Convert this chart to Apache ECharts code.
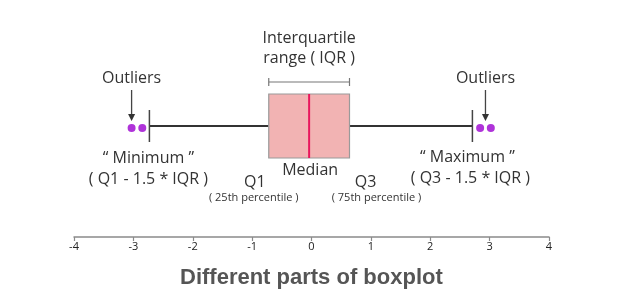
<!DOCTYPE html>
<html>
<head>
<meta charset="utf-8">
<script src="https://cdn.jsdelivr.net/npm/echarts@6/dist/echarts.min.js"></script>
<style>html,body{margin:0;padding:0;background:#fff;}#c{width:626px;height:291px;}</style>
</head>
<body>
<div id="c"></div>
<script>
// ---- data ----
const xMin = -4, xMax = 4, xInterval = 1;
// [lower whisker, Q1, median, Q3, upper whisker]
const boxStats = [-2.73, -0.72, -0.04, 0.64, 2.71];
const lowOutliers = [-3.03, -2.85];
const highOutliers = [2.84, 3.02];
const titleText = 'Different parts of boxplot';
const iqrLabel = ['Interquartile', 'range ( IQR )'];
const minLabel = ['\u201C Minimum \u201D', '( Q1 - 1.5 * IQR )'];
const maxLabel = ['\u201C Maximum \u201D', '( Q3 - 1.5 * IQR )'];
const q1Label = ['Q1', '( 25th percentile )'];
const q3Label = ['Q3', '( 75th percentile )'];
const medianLabel = 'Median';
const outlierLabel = 'Outliers';

const FONT = '"Open Sans", "Noto Sans", sans-serif';
const TXT = '#333';

function txt(text, x, y, size) {
  return { type: 'text', style: { text: text, x: x, y: y, fill: TXT, font: size + 'px ' + FONT, align: 'center', verticalAlign: 'middle' } };
}
function arrow(x, y1, y2) {
  return [
    { type: 'line', shape: { x1: x, y1: y1, x2: x, y2: y2 - 6 }, style: { stroke: '#444', lineWidth: 1.3 } },
    { type: 'polygon', shape: { points: [[x - 3.5, y2 - 7], [x + 3.5, y2 - 7], [x, y2]] }, style: { fill: '#333' } }
  ];
}

const chart = echarts.init(document.getElementById('c'), null, { renderer: 'canvas' });
chart.setOption({
  animation: false,
  backgroundColor: '#fff',
  title: {
    text: titleText, left: 175, top: 262,
    textStyle: { fontFamily: '"Liberation Sans", Arial, sans-serif', fontWeight: 'bold', fontSize: 22, color: '#555' }
  },
  grid: { left: 74, right: 77, top: 15, bottom: 54 },
  xAxis: {
    type: 'value', min: xMin, max: xMax, interval: xInterval,
    splitLine: { show: false },
    axisLine: { show: true, onZero: false, lineStyle: { color: '#8a8a8a', width: 1.5 } },
    axisTick: { show: true, length: 4, lineStyle: { color: '#8a8a8a', width: 1.2 } },
    axisLabel: { color: '#222', fontSize: 11, fontFamily: FONT, margin: 4 }
  },
  yAxis: { type: 'value', min: -1, max: 1, show: false },
  series: [
    {
      type: 'custom',
      data: [boxStats],
      z: 2,
      renderItem: function (params, api) {
        const lo = api.coord([api.value(0), 0]);
        const q1 = api.coord([api.value(1), 0]);
        const md = api.coord([api.value(2), 0]);
        const q3 = api.coord([api.value(3), 0]);
        const hi = api.coord([api.value(4), 0]);
        const cy = q1[1];
        const oL = api.coord([lowOutliers[0], 0]);
        const oR = api.coord([(highOutliers[0] + highOutliers[1]) / 2, 0]);
        const els = [
          // whiskers
          { type: 'line', shape: { x1: lo[0], y1: cy, x2: q1[0], y2: cy }, style: { stroke: '#333', lineWidth: 2 } },
          { type: 'line', shape: { x1: q3[0], y1: cy, x2: hi[0], y2: cy }, style: { stroke: '#333', lineWidth: 2 } },
          { type: 'line', shape: { x1: lo[0], y1: cy - 16, x2: lo[0], y2: cy + 16 }, style: { stroke: '#444', lineWidth: 1.5 } },
          { type: 'line', shape: { x1: hi[0], y1: cy - 16, x2: hi[0], y2: cy + 16 }, style: { stroke: '#444', lineWidth: 1.5 } },
          // box
          { type: 'rect', shape: { x: q1[0], y: cy - 32, width: q3[0] - q1[0], height: 64 }, style: { fill: '#f2b3b3', stroke: '#9a9a9a', lineWidth: 1.2 } },
          // median
          { type: 'line', shape: { x1: md[0], y1: cy - 32, x2: md[0], y2: cy + 32 }, style: { stroke: '#e8175d', lineWidth: 2 } },
          // IQR bracket
          { type: 'line', shape: { x1: q1[0], y1: cy - 44, x2: q3[0], y2: cy - 44 }, style: { stroke: '#777', lineWidth: 1.2 } },
          { type: 'line', shape: { x1: q1[0], y1: cy - 48, x2: q1[0], y2: cy - 40 }, style: { stroke: '#777', lineWidth: 1.2 } },
          { type: 'line', shape: { x1: q3[0], y1: cy - 48, x2: q3[0], y2: cy - 40 }, style: { stroke: '#777', lineWidth: 1.2 } },
          // texts
          txt(iqrLabel[0], (q1[0] + q3[0]) / 2, cy - 88, 16),
          txt(iqrLabel[1], (q1[0] + q3[0]) / 2, cy - 68, 16),
          txt(outlierLabel, oL[0], cy - 48, 16),
          txt(outlierLabel, oR[0], cy - 48, 16),
          txt(minLabel[0], lo[0] - 1, cy + 32, 16),
          txt(minLabel[1], lo[0] - 1, cy + 53, 16),
          txt(maxLabel[0], hi[0] - 5, cy + 31, 16),
          txt(maxLabel[1], hi[0] - 2, cy + 52, 16),
          txt(medianLabel, md[0] + 1, cy + 44, 16),
          txt(q1Label[0], q1[0] - 14, cy + 56, 16),
          txt(q1Label[1], q1[0] - 15, cy + 72, 11),
          txt(q3Label[0], q3[0] + 16, cy + 56, 16),
          txt(q3Label[1], q3[0] + 27, cy + 72, 11)
        ];
        return { type: 'group', children: els.concat(arrow(oL[0], cy - 36, cy - 5), arrow(oR[0], cy - 36, cy - 5)) };
      }
    },
    {
      type: 'scatter',
      z: 3,
      symbol: 'circle',
      symbolSize: 8,
      symbolOffset: [0, 2],
      itemStyle: { color: '#9b00d0' },
      data: lowOutliers.concat(highOutliers).map(function (v) { return [v, 0]; })
    }
  ]
});
</script>
</body>
</html>
